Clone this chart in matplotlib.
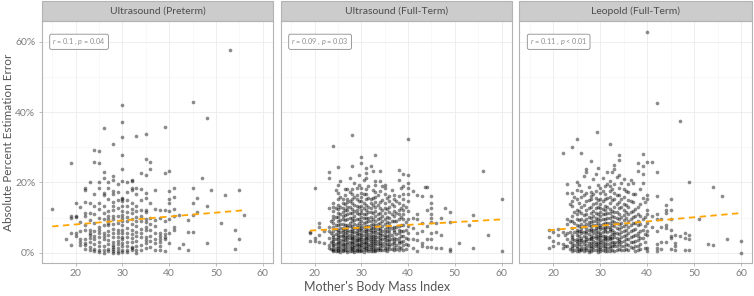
import matplotlib
matplotlib.use("Agg")
import matplotlib.pyplot as plt
from matplotlib.patches import Rectangle

plt.rcParams['font.family'] = ['Lato', 'DejaVu Sans']
plt.rcParams['mathtext.fontset'] = 'custom'
plt.rcParams['mathtext.rm'] = 'Lato'
plt.rcParams['mathtext.it'] = 'Lato:italic'

# ---------------- data ----------------
panel_titles = ["Ultrasound (Preterm)", "Ultrasound (Full-Term)", "Leopold (Full-Term)"]
stat_labels = [r"$\mathit{r}$ = 0.1 , $\mathit{p}$ = 0.04",
               r"$\mathit{r}$ = 0.09 , $\mathit{p}$ = 0.03",
               r"$\mathit{r}$ = 0.11 , $\mathit{p}$ < 0.01"]
fit_x = [[15, 56], [19, 60], [19, 60]]
fit_y = [[7.5, 12.1], [6.3, 9.5], [6.4, 11.3]]
x_ticks = [20, 30, 40, 50, 60]
y_ticks = [0, 20, 40, 60]
y_tick_labels = ["0%", "20%", "40%", "60%"]

# BMI -> absolute percent estimation error (%)
preterm_us = {
    15: [12.5],
    18: [4.0],
    19: [25.6, 10.4, 10.0, 5.5, 2.1],
    20: [14.3, 10.2, 10.6, 5.7, 4.7],
    21: [12.9, 8.7, 6.1, 3.8, 3.2, 2.1],
    22: [18.4, 17.8, 14.4, 11.4, 10.4, 7.8, 6.6, 4.0, 2.8, 2.1, 1.1],
    23: [20.1, 14.2, 11.2, 9.3, 6.6, 5.7, 5.2, 4.3, 3.0, 1.7, 0.8],
    24: [29.1, 25.9, 16.7, 13.2, 11.1, 8.5, 6.3, 4.7, 3.8, 2.4, 1.1, 0.4],
    25: [29.0, 25.6, 20.1, 18.4, 14.3, 12.5, 9.9, 7.3, 6.6, 5.7, 4.5, 3.0, 1.9, 0.8, 0.2],
    26: [35.4, 23.1, 21.3, 17.0, 16.4, 13.4, 11.4, 9.5, 7.8, 5.7, 4.7, 3.8, 1.9, 0.8, 0.0],
    27: [20.1, 18.4, 15.3, 11.8, 10.6, 9.7, 8.5, 7.9, 6.3, 5.2, 3.6, 2.4, 1.1, 0.4],
    28: [31.0, 21.9, 20.8, 17.7, 16.7, 14.4, 13.4, 12.3, 10.6, 9.5, 8.3, 6.8, 5.7, 4.5,
         3.2, 2.1, 1.7, 1.1, 0.4, 0.0],
    29: [19.7, 17.2, 15.1, 12.7, 10.6, 8.5, 6.6, 5.5, 4.4, 3.3, 2.4, 1.4, 0.5, 0.0],
    30: [42.1, 37.1, 32.9, 27.9, 23.7, 20.3, 15.6, 15.3, 14.6, 13.2, 11.9, 10.8, 9.9, 9.1,
         7.8, 6.6, 5.7, 4.5, 3.8, 2.8, 1.9, 0.9, 0.2],
    31: [20.1, 17.2, 15.1, 13.4, 11.7, 10.2, 9.1, 7.0, 5.7, 4.5, 3.2, 1.9, 0.9, 0.2],
    32: [20.8, 20.3, 18.4, 17.8, 14.2, 12.5, 11.4, 9.7, 8.3, 6.6, 5.4, 4.2, 3.0, 1.7, 1.3, 0.8],
    33: [33.3, 18.4, 16.8, 13.2, 11.9, 10.2, 9.1, 7.6, 5.9, 4.7, 3.4, 1.9, 0.8, 0.0],
    34: [22.7, 18.0, 15.1, 12.3, 10.6, 9.0, 6.8, 5.7, 4.4, 2.1, 0.8],
    35: [33.7, 26.8, 22.0, 17.0, 15.5, 12.3, 11.5, 9.7, 8.7, 7.4, 6.6, 4.5, 3.6, 2.8, 1.4],
    36: [25.7, 23.7, 14.2, 9.9, 8.3, 6.6, 4.7, 3.3, 1.7],
    37: [17.8, 12.5, 9.3, 7.6, 5.7, 4.0, 2.8, 0.8],
    38: [12.3, 9.9, 5.7, 4.9, 4.0, 3.0, 1.9, 0.8],
    39: [35.9, 22.7, 12.1, 9.1, 6.6, 5.4, 4.5, 4.0, 0.5],
    40: [23.2, 17.5, 15.3, 14.2, 11.9, 9.7, 5.7, 2.7],
    41: [18.4, 15.9, 12.5, 10.4, 7.2, 6.6],
    42: [10.8, 1.5],
    43: [2.6],
    44: [9.3, 6.0, 0.8],
    45: [42.9, 18.5, 14.3, 10.8, 5.8],
    46: [15.7, 11.7],
    47: [21.4],
    48: [38.4, 13.2, 2.8],
    49: [17.8],
    51: [8.5],
    52: [16.3],
    53: [57.8],
    54: [6.4, 1.1],
    55: [17.8, 4.0],
    56: [10.7],
}

fullterm_us = {
    19: [6.0, 5.5, 3.3],
    20: [18.3, 4.3, 3.3],
    21: [8.5, 7.4, 5.2, 3.0],
    22: [6.2, 2.8],
    23: [22.9, 21.3, 12.8, 7.4, 6.2, 4.3, 2.2, 1.4],
    23.5: [9.0, 5.5, 3.1, 1.2],
    24: [30.3, 14.2, 13.1, 12.0, 10.6, 9.5, 8.5, 7.4, 6.2, 5.0, 4.4, 4.0, 3.3, 2.8, 2.2,
         1.8, 1.2, 0.8, 0.4],
    24.5: [17.9, 12.6, 10.1, 8.0, 6.8, 5.3, 3.9, 2.5, 1.3, 0.6],
    25: [24.4, 19.2, 16.9, 15.2, 13.7, 12.5, 11.4, 10.2, 9.0, 7.8, 6.6, 5.9, 5.2, 4.6, 3.8,
         3.1, 2.7, 2.0, 1.4, 0.9, 0.5],
    25.5: [20.3, 15.8, 13.0, 11.0, 9.3, 8.2, 7.0, 5.8, 4.9, 3.6, 2.9, 1.8, 1.1, 0.3],
    26: [15.2, 14.2, 12.8, 11.6, 10.4, 9.5, 8.3, 7.1, 6.4, 5.9, 5.1, 4.7, 4.0, 3.3, 2.6,
         2.1, 1.5, 0.9, 0.4],
    26.5: [18.1, 16.4, 13.9, 12.1, 10.7, 9.2, 8.0, 6.9, 5.6, 4.4, 3.5, 2.4, 1.6, 0.7],
    27: [18.0, 15.2, 14.4, 13.1, 12.3, 10.9, 9.5, 8.0, 7.2, 6.6, 5.8, 5.2, 4.5, 3.8, 3.0,
         2.4, 1.7, 0.9, 0.3],
    27.5: [21.4, 17.3, 14.8, 12.9, 11.3, 9.9, 8.6, 7.5, 6.2, 5.0, 4.1, 3.2, 2.2, 1.3, 0.5],
    28: [33.5, 24.6, 18.2, 16.6, 15.3, 14.2, 12.5, 11.4, 9.9, 9.0, 7.6, 6.9, 6.2, 5.5, 4.9,
         4.2, 3.8, 3.1, 2.7, 2.0, 1.4, 1.0, 0.5],
    28.5: [19.8, 16.0, 13.6, 11.8, 10.6, 9.4, 8.2, 7.0, 6.0, 4.8, 3.9, 3.0, 2.3, 1.6, 0.8, 0.2],
    29: [18.5, 16.3, 15.2, 13.4, 12.3, 11.2, 9.5, 8.0, 7.1, 6.3, 5.7, 5.0, 4.3, 3.7, 3.3,
         2.6, 2.1, 1.5, 0.9, 0.4],
    29.5: [22.0, 19.3, 14.6, 13.0, 10.9, 9.6, 8.4, 7.4, 6.4, 5.3, 4.2, 3.5, 2.6, 1.8, 1.1, 0.4],
    30: [27.1, 25.5, 18.3, 17.0, 15.9, 14.7, 13.4, 12.3, 11.4, 10.2, 9.0, 7.8, 7.1, 6.6,
         5.7, 5.1, 4.5, 3.9, 3.3, 2.7, 2.1, 1.6, 0.9, 0.4],
    30.5: [20.7, 16.8, 14.1, 12.7, 11.0, 9.8, 8.6, 7.3, 6.1, 5.0, 4.0, 3.1, 2.4, 1.7, 1.0, 0.3],
    31: [24.1, 22.7, 21.3, 18.0, 16.6, 15.2, 13.7, 12.3, 11.1, 9.9, 8.7, 7.6, 6.9, 6.2,
         5.5, 4.9, 4.3, 3.8, 3.2, 2.7, 2.0, 1.4, 0.8],
    31.5: [19.1, 15.5, 12.9, 11.6, 10.0, 8.9, 7.7, 6.6, 5.4, 4.5, 3.5, 2.5, 1.8, 1.0, 0.4],
    32: [24.8, 15.2, 14.2, 12.8, 11.6, 10.2, 9.0, 7.8, 7.1, 6.6, 5.9, 5.2, 4.6, 4.0, 3.4,
         2.8, 2.2, 1.7, 1.1, 0.5],
    32.5: [23.3, 17.9, 15.6, 13.5, 11.4, 9.6, 8.3, 7.1, 6.0, 4.9, 3.9, 3.0, 2.3, 1.4, 0.6],
    33: [27.9, 20.4, 19.4, 17.2, 15.9, 14.4, 13.1, 11.8, 10.4, 9.0, 7.8, 7.2, 6.6, 5.9,
         5.2, 4.6, 4.0, 3.4, 2.8, 2.1, 1.4, 0.9, 0.5],
    33.5: [16.5, 13.6, 11.1, 9.6, 8.1, 6.9, 5.6, 4.4, 3.4, 2.4, 1.5, 0.7],
    34: [23.4, 20.4, 17.5, 14.4, 12.8, 11.4, 9.9, 8.5, 7.1, 6.4, 5.7, 5.0, 4.3, 3.6, 2.8,
         2.1, 1.4, 0.7],
    34.5: [18.9, 15.1, 12.1, 10.6, 8.9, 7.6, 6.2, 5.1, 3.9, 2.9, 1.8, 0.9],
    35: [19.4, 18.5, 16.6, 14.2, 12.8, 11.4, 9.7, 8.3, 6.8, 6.0, 5.2, 4.5, 3.8, 3.0, 2.1,
         1.4, 0.8],
    35.5: [15.7, 12.4, 10.3, 8.8, 7.4, 6.1, 4.9, 3.6, 2.6, 1.5, 0.6],
    36: [16.1, 14.7, 13.1, 11.6, 9.9, 8.5, 7.3, 6.6, 5.5, 4.7, 3.9, 3.3, 2.5, 1.9, 1.0],
    36.5: [17.8, 13.9, 10.9, 8.9, 7.0, 5.2, 3.8, 2.4, 1.2],
    37: [16.3, 15.2, 13.4, 11.8, 10.4, 9.0, 7.4, 6.5, 5.9, 4.3, 3.4, 2.7, 1.6, 0.9],
    37.5: [14.7, 11.3, 9.1, 7.2, 5.3, 3.8, 2.2, 1.0],
    38: [23.5, 20.8, 16.1, 14.2, 12.3, 10.9, 9.5, 7.6, 6.6, 5.7, 4.3, 3.4, 2.7, 1.6, 0.9],
    38.5: [18.3, 12.8, 10.1, 8.0, 6.1, 4.7, 3.0, 1.4],
    39: [22.3, 18.9, 16.6, 15.2, 13.7, 12.3, 11.1, 9.5, 7.8, 6.2, 4.7, 3.3, 2.1, 0.8],
    39.5: [13.0, 8.8, 6.4, 4.2, 2.4, 1.1],
    40: [32.4, 22.1, 19.9, 18.5, 16.6, 14.7, 12.0, 9.5, 7.6, 5.7, 3.8, 2.1],
    41: [17.5, 10.0, 7.0, 4.0, 1.5],
    42: [16.3, 10.9, 9.5, 5.5, 3.5, 0.5],
    43: [16.1, 8.5, 6.2, 2.8, 1.9],
    43.6: [18.7],
    44: [18.6, 12.3, 7.5, 4.0, 1.7],
    45: [16.1, 14.2, 12.8, 11.0, 9.8, 8.7, 5.7, 4.0, 1.6],
    46: [8.5, 5.9, 1.4],
    47: [9.9, 5.2, 1.4],
    48: [12.7],
    49: [11.7, 8.7, 1.1, 0.5],
    51: [2.8],
    53: [8.0],
    54: [10.8, 1.5],
    56: [23.4],
    57: [5.2],
    60: [15.3, 0.4],
}

fullterm_leopold = {
    19: [6.5, 4.5, 1.4],
    20: [6.0, 3.3, 1.9],
    21: [6.8, 5.2, 2.8],
    22: [28.3, 6.0, 2.4, 1.4],
    22.5: [5.0, 2.0],
    23: [19.7, 17.0, 9.7, 8.3, 5.7, 3.8, 1.9],
    23.5: [13.8, 9.0, 5.8, 3.2, 1.0],
    24: [30.1, 17.0, 14.7, 13.4, 10.4, 9.0, 7.1, 5.2, 4.4, 3.8, 2.7, 1.9, 1.4, 0.5],
    24.5: [15.9, 11.6, 8.6, 6.0, 3.7, 2.3, 0.9],
    25: [32.5, 20.1, 17.8, 15.2, 12.3, 11.1, 9.7, 8.0, 6.6, 5.9, 5.2, 4.0, 3.3, 2.8,
         2.0, 1.4, 0.5],
    25.5: [19.2, 14.1, 11.9, 9.4, 7.6, 6.1, 4.7, 3.5, 2.4, 1.2, 0.4],
    26: [28.4, 17.5, 15.9, 13.1, 11.4, 9.7, 8.3, 7.1, 6.3, 5.7, 4.3, 3.6, 3.0, 1.9, 1.2, 0.8],
    26.5: [21.7, 16.4, 13.6, 10.8, 8.9, 7.5, 6.0, 4.8, 3.4, 2.4, 1.5, 0.6],
    27: [23.7, 22.9, 16.9, 14.7, 12.3, 10.9, 9.5, 8.3, 7.1, 6.3, 5.7, 4.5, 3.9, 3.3, 2.1,
         1.5, 0.8],
    27.5: [18.7, 14.9, 12.7, 10.3, 8.8, 7.8, 6.5, 5.3, 4.0, 2.9, 1.9, 0.9, 0.3],
    28: [26.0, 17.2, 16.1, 15.2, 13.1, 11.4, 9.9, 8.7, 7.6, 6.8, 6.2, 4.9, 4.3, 3.8, 2.7,
         2.0, 1.4, 0.5],
    28.5: [20.9, 16.6, 13.9, 11.8, 10.4, 9.1, 7.9, 6.6, 5.5, 4.4, 3.4, 2.4, 1.6, 0.8],
    29: [22.3, 17.5, 15.6, 14.2, 12.8, 11.4, 9.9, 9.0, 7.8, 7.1, 6.6, 5.5, 4.9, 4.3, 3.0,
         2.4, 1.9, 0.8],
    29.4: [34.4],
    29.5: [24.1, 19.3, 15.0, 12.9, 11.0, 9.6, 8.5, 7.2, 6.0, 4.9, 3.9, 2.8, 1.9, 1.0, 0.3],
    30: [18.5, 16.9, 15.3, 14.0, 12.8, 11.6, 10.4, 9.3, 8.0, 7.4, 6.8, 5.7, 5.1, 4.5, 3.6,
         3.0, 2.4, 1.7, 1.1, 0.5],
    30.5: [21.2, 17.6, 14.7, 12.5, 10.9, 9.6, 8.3, 7.0, 5.9, 4.8, 3.7, 2.7, 1.8, 0.9],
    31: [18.9, 16.6, 15.2, 13.4, 12.3, 10.9, 9.7, 8.5, 7.4, 6.8, 6.2, 4.9, 4.3, 3.8, 2.7,
         2.0, 1.4, 0.5],
    31.5: [23.0, 19.7, 15.6, 13.0, 11.3, 9.9, 8.5, 7.2, 5.9, 4.6, 3.5, 2.4, 1.3, 0.6],
    32: [31.0, 20.5, 19.1, 17.5, 15.9, 14.2, 12.5, 11.2, 9.9, 8.5, 7.4, 6.7, 6.2, 4.9,
         4.2, 3.8, 2.7, 2.0, 1.4, 0.5],
    32.5: [22.9, 18.2, 14.9, 12.0, 10.5, 9.1, 7.8, 6.5, 5.3, 4.1, 3.0, 1.8, 0.8],
    33: [24.9, 23.7, 19.5, 17.0, 15.2, 13.1, 11.6, 10.2, 8.8, 7.5, 6.0, 5.3, 4.6, 3.2,
         2.5, 1.8, 0.6],
    33.5: [21.6, 16.4, 13.8, 11.5, 9.9, 8.4, 7.0, 5.7, 4.3, 3.0, 1.9, 0.8],
    34: [27.7, 26.3, 22.0, 18.5, 16.3, 14.5, 12.6, 11.0, 9.6, 8.2, 6.8, 5.4, 4.0, 3.3,
         2.6, 1.2],
    34.5: [19.9, 15.3, 12.9, 10.3, 8.6, 7.2, 5.9, 4.5, 3.1, 1.9, 0.7],
    35: [21.0, 18.0, 15.8, 13.9, 12.2, 10.7, 9.2, 7.7, 6.3, 4.9, 3.4, 2.0, 0.7],
    35.5: [17.6, 13.6, 11.5, 9.8, 8.1, 6.6, 5.2, 3.8, 2.4, 1.2],
    36: [19.6, 17.3, 15.0, 12.9, 11.0, 9.1, 7.3, 5.6, 3.9, 2.2, 0.9],
    36.5: [20.6, 14.6, 11.7, 9.6, 7.9, 6.2, 4.6, 3.1, 1.6],
    37: [19.9, 16.8, 14.4, 12.0, 10.1, 8.4, 6.6, 4.8, 3.0, 1.3],
    37.5: [16.6, 12.5, 10.4, 8.6, 6.9, 5.1, 3.4, 1.8, 0.6],
    38: [25.4, 23.4, 13.1, 11.0, 9.0, 7.8, 5.7, 4.7, 3.6, 1.9, 0.8],
    38.5: [18.0, 13.8, 10.6, 8.3, 6.3, 4.2, 2.6, 1.1],
    39: [28.2, 24.6, 22.3, 19.9, 15.6, 9.5, 6.6, 4.3],
    39.5: [14.4, 10.2, 7.5, 5.3, 3.1, 1.5],
    40: [62.9, 25.9, 16.3, 15.2, 12.3, 11.1, 8.5, 6.2, 5.2, 1.4, 0.5],
    41: [25.9, 10.6, 7.4],
    42: [42.6, 23.0, 16.1, 10.9, 9.5, 6.2, 2.6, 1.4, 0.5],
    43: [9.5, 7.4, 3.0, 1.1],
    44: [13.7, 12.3, 11.4, 8.0, 7.1, 3.0],
    45: [15.4, 12.3, 9.5, 6.6, 4.9, 4.3, 1.1],
    46: [5.2, 2.8, 1.9, 0.7],
    47: [37.4, 4.7],
    48: [5.7, 4.3, 0.9],
    49: [20.2, 5.2, 3.8, 0.9],
    51: [9.7],
    53: [2.4],
    54: [18.7, 2.2],
    56: [16.2],
    57: [3.8],
    60: [3.3, 0.0],
}

panel_data = [preterm_us, fullterm_us, fullterm_leopold]

# ---------------- drawing ----------------
fig = plt.figure(figsize=(7.54, 2.96), dpi=100)
fig.patch.set_facecolor('white')

lefts = [0.0553, 0.3723, 0.6887]
widths = [0.3072, 0.3068, 0.3082]
bottom, height = 0.1115, 0.8186
strip_h = 0.0665 / height

grid_col = '#EBEBEB'
border_col = '#B3B3B3'
tick_col = '#7F7F7F'

for i in range(3):
    ax = fig.add_axes([lefts[i], bottom, widths[i], height])
    ax.set_facecolor('white')
    xs, ys = [], []
    for bmi, errs in panel_data[i].items():
        for e in errs:
            xs.append(bmi)
            ys.append(e)
    ax.scatter(xs, ys, s=7, color='black', alpha=0.45, linewidths=0, zorder=3)
    ax.plot(fit_x[i], fit_y[i], color='#FFA500', lw=1.3, ls=(0, (3.5, 2.5)), zorder=4)

    ax.set_xlim(12.75, 62.25)
    ax.set_ylim(-2.9, 66.0)
    ax.set_xticks(x_ticks)
    ax.set_xticks([15, 25, 35, 45, 55], minor=True)
    ax.set_yticks(y_ticks)
    ax.set_yticks([10, 30, 50], minor=True)
    ax.grid(True, which='major', color=grid_col, lw=0.6, zorder=0)
    ax.grid(True, which='minor', color='#F4F4F4', lw=0.4, zorder=0)
    ax.set_axisbelow(True)
    ax.tick_params(which='minor', length=0)
    ax.tick_params(which='major', length=2.5, width=0.6, color=border_col,
                   labelsize=7.5, labelcolor=tick_col, pad=2)
    if i == 0:
        ax.set_yticklabels(y_tick_labels)
    else:
        ax.tick_params(axis='y', labelleft=False, length=0)
    for sp in ax.spines.values():
        sp.set_color(border_col)
        sp.set_linewidth(0.8)

    # strip
    rect = Rectangle((0, 1.0), 1, strip_h, transform=ax.transAxes, clip_on=False,
                     facecolor='#CCCCCC', edgecolor=border_col, lw=0.8)
    ax.add_patch(rect)
    ax.text(0.5, 1.0 + strip_h / 2, panel_titles[i], transform=ax.transAxes,
            ha='center', va='center', fontsize=7.5, color='#4D4D4D')

    # stat label
    ax.text(15, 60, stat_labels[i], ha='left', va='center', fontsize=5.2, color='#8C8C8C',
            zorder=5,
            bbox=dict(boxstyle='round,pad=0.35,rounding_size=0.25', fc='white',
                      ec='#8C8C8C', lw=0.6))

fig.text(0.5, 0.03, "Mother's Body Mass Index", ha='center', va='center',
         fontsize=9, color='#555555')
fig.text(0.011, bottom + height / 2, "Absolute Percent Estimation Error", ha='center',
         va='center', rotation=90, fontsize=8.5, color='#555555')

fig.savefig('out.png', dpi=100, facecolor='white')
